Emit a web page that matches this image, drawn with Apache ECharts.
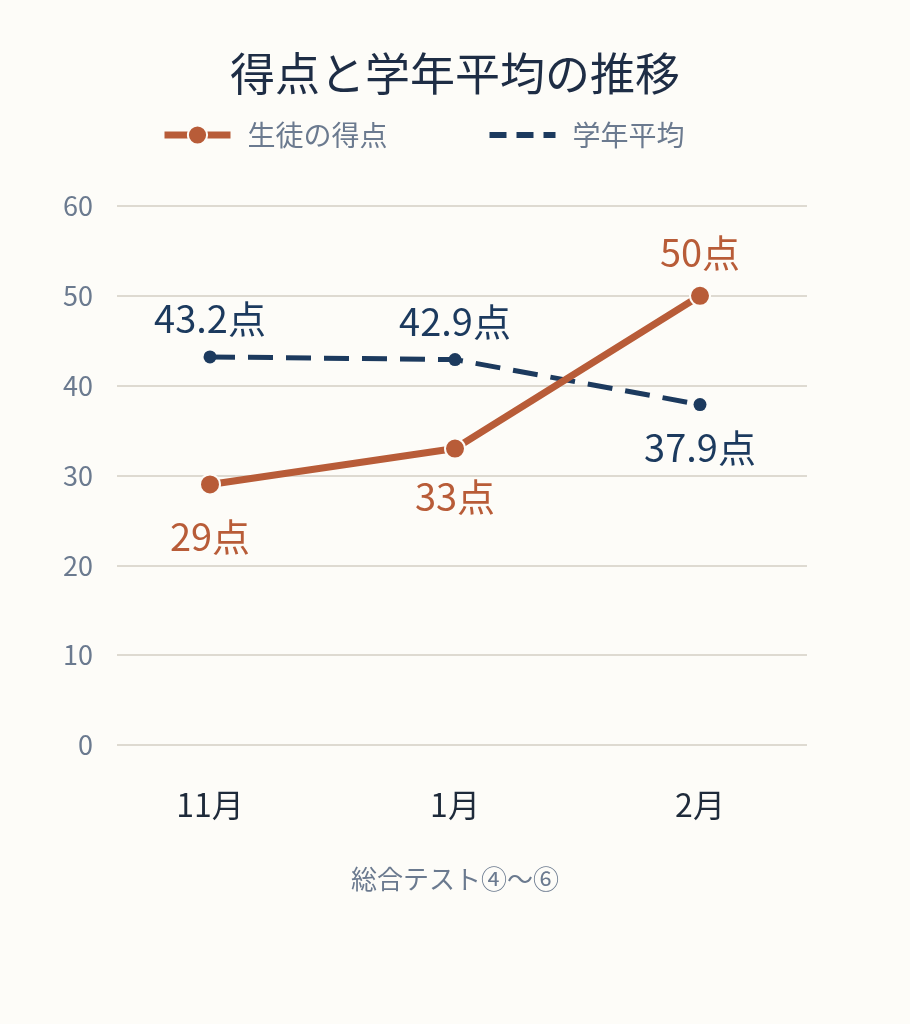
<!DOCTYPE html>
<html lang="ja">
<head>
    <meta charset="UTF-8">
    <title>得点と学年平均の推移</title>
    <script src="https://cdn.jsdelivr.net/npm/echarts@6.0.0/dist/echarts.min.js"></script>
    <style>
        * { margin: 0; padding: 0; box-sizing: border-box; }
        body { background: #fdfcf8; }
        #chart { width: 910px; height: 1024px; }
    </style>
</head>
<body>
<div id="chart"></div>
<script>
    // データ
    const months = ['11月', '1月', '2月'];
    const studentScores = [29, 33, 50];
    const gradeAverage = [43.2, 42.9, 37.9];
    // ラベルの上下 (true = 上)
    const studentLabelTop = [false, false, true];
    const averageLabelTop = [true, true, false];

    const ORANGE = '#b85c38';
    const NAVY = '#1c3a5e';
    const FONT = '"Noto Sans CJK JP", "Noto Sans", sans-serif';

    let myChart = echarts.init(document.getElementById('chart'));

    // ラベル位置 (上 / 下) と点からの距離
    function pointData(values, tops, dists) {
        return values.map(function (v, i) {
            return {
                value: v,
                label: {position: tops[i] ? 'top' : 'bottom', distance: dists[i]}
            };
        });
    }

    let option = {
        backgroundColor: '#fdfcf8',
        textStyle: {fontFamily: FONT},
        title: {
            text: '得点と学年平均の推移',
            left: 'center',
            top: 46,
            textStyle: {fontSize: 45, fontWeight: 'normal', color: '#1e2d45', fontFamily: FONT}
        },
        legend: {
            top: 116,
            left: 156,
            itemWidth: 66,
            itemHeight: 24,
            itemGap: 99,
            textStyle: {fontSize: 28, color: '#6b7a8f', fontFamily: FONT, padding: [0, 0, 0, 12]},
            data: [
                {name: '生徒の得点', lineStyle: {width: 7}},
                {name: '学年平均', lineStyle: {width: 6, type: [17, 10]}, itemStyle: {opacity: 0}}
            ]
        },
        // grid 0: 目盛線と y 軸ラベル, grid 1: データ
        grid: [
            {left: 117, right: 103, top: 206, bottom: 279},
            {left: 87.5, right: 87.5, top: 206, bottom: 279}
        ],
        xAxis: [
            {gridIndex: 0, type: 'value', show: false},
            {
                gridIndex: 1,
                type: 'category',
                data: months,
                boundaryGap: true,
                axisLine: {show: false},
                axisTick: {show: false},
                axisLabel: {fontSize: 32, color: '#1e2a3a', margin: 44, fontFamily: FONT},
                name: '総合テスト④〜⑥',
                nameLocation: 'middle',
                nameGap: 121,
                nameTextStyle: {fontSize: 26, color: '#6b7a8f', fontFamily: FONT}
            }
        ],
        yAxis: [
            {
                gridIndex: 0,
                type: 'value',
                min: 0,
                max: 60,
                interval: 10,
                axisLine: {show: false},
                axisTick: {show: false},
                axisLabel: {fontSize: 27, color: '#6b7a8f', margin: 24, fontFamily: FONT},
                splitLine: {lineStyle: {color: '#dedad1', width: 2}}
            },
            {gridIndex: 1, type: 'value', min: 0, max: 60, show: false}
        ],
        series: [
            {
                name: '学年平均',
                type: 'line',
                xAxisIndex: 1,
                yAxisIndex: 1,
                data: pointData(gradeAverage, averageLabelTop, [13, 13, 18]),
                symbol: 'circle',
                symbolSize: 13,
                color: NAVY,
                lineStyle: {color: NAVY, width: 5, type: [25, 13]},
                itemStyle: {color: NAVY},
                label: {
                    show: true,
                    fontSize: 38,
                    color: NAVY,
                    fontFamily: FONT,
                    formatter: '{c}点'
                },
                z: 2
            },
            {
                name: '生徒の得点',
                type: 'line',
                xAxisIndex: 1,
                yAxisIndex: 1,
                data: pointData(studentScores, studentLabelTop, [22, 18, 13]),
                symbol: 'circle',
                symbolSize: 20,
                color: ORANGE,
                lineStyle: {color: ORANGE, width: 7},
                itemStyle: {color: ORANGE, borderColor: '#fdfcf8', borderWidth: 2},
                label: {
                    show: true,
                    fontSize: 38,
                    color: ORANGE,
                    fontFamily: FONT,
                    formatter: '{c}点'
                },
                z: 3
            }
        ],
        animation: false
    };

    option && myChart.setOption(option);
</script>
</body>
</html>
